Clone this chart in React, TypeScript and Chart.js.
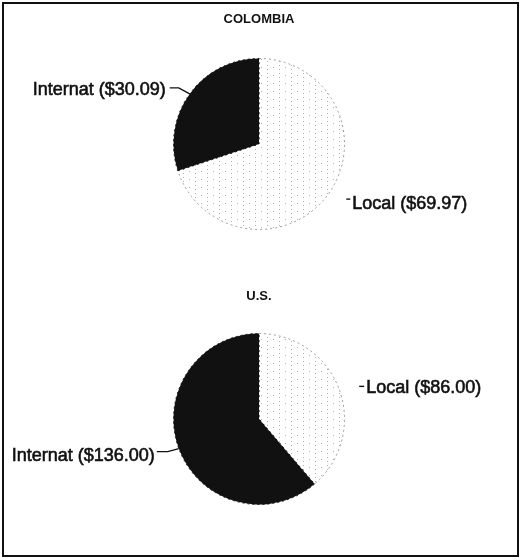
import React, { useEffect, useRef } from "react";
import { Chart, registerables } from "chart.js";
Chart.register(...registerables);

const categories = ["Local", "Internat"];
const colombiaValues = [69.97, 30.09];
const usValues = [86.0, 136.0];
const chartTitles = ["COLOMBIA", "U.S."];

type LabelSpec = {
  side: "left" | "right";
  lineDy: number;
  d1: number;
  d2: number;
  textDx: number;
  textDy: number;
};

function makeDotPattern(): CanvasPattern | string {
  const c = document.createElement("canvas");
  c.width = 12;
  c.height = 8;
  const g = c.getContext("2d");
  if (!g) return "#ffffff";
  g.fillStyle = "#ffffff";
  g.fillRect(0, 0, 12, 8);
  g.fillStyle = "#b0b0b0";
  g.fillRect(3, 1, 1, 1);
  g.fillRect(3, 5, 1, 1);
  g.fillRect(9, 3, 1, 1);
  const p = g.createPattern(c, "repeat");
  return p || "#ffffff";
}

const FONT = "'Liberation Sans', Arial, sans-serif";

const labelPlugin = {
  id: "pieLabels",
  afterDraw(chart: any) {
    const opts = chart.options.plugins.pieLabels;
    const ctx: CanvasRenderingContext2D = chart.ctx;
    const meta = chart.getDatasetMeta(0);
    const values: number[] = chart.data.datasets[0].data;
    const labels: string[] = chart.data.labels;
    ctx.save();
    ctx.fillStyle = "#111";
    ctx.strokeStyle = "#111";
    ctx.font = `bold 13px ${FONT}`;
    ctx.textAlign = "center";
    ctx.textBaseline = "middle";
    const first = meta.data[0];
    ctx.fillText(opts.title, first.x, opts.titleY);

    ctx.font = `18px ${FONT}`;
    meta.data.forEach((arc: any, i: number) => {
      const { x, y, startAngle, endAngle, outerRadius } = arc.getProps(
        ["x", "y", "startAngle", "endAngle", "outerRadius"],
        true
      );
      const mid = (startAngle + endAngle) / 2;
      const ax = x + Math.cos(mid) * outerRadius;
      const ay = y + Math.sin(mid) * outerRadius;
      const spec: LabelSpec = opts.specs[i];
      const text = `${labels[i]} ($${values[i].toFixed(2)})`;
      ctx.lineWidth = 1.4;
      ctx.beginPath();
      let tx: number;
      if (spec.side === "left") {
        ctx.moveTo(ax, ay);
        ctx.lineTo(ax - spec.d1, ay + spec.lineDy);
        ctx.lineTo(ax - spec.d2, ay + spec.lineDy);
        ctx.stroke();
        ctx.textAlign = "right";
        tx = ax - spec.textDx;
      } else {
        ctx.moveTo(ax + spec.d1, ay + spec.lineDy);
        ctx.lineTo(ax + spec.d2, ay + spec.lineDy);
        ctx.stroke();
        ctx.textAlign = "left";
        tx = ax + spec.textDx;
      }
      ctx.fillText(text, tx, ay + spec.textDy);
      ctx.lineWidth = 0.6;
      ctx.strokeText(text, tx, ay + spec.textDy);
    });
    ctx.restore();
  },
};

function PieChart(props: {
  title: string;
  values: number[];
  padding: { left: number; right: number; top: number; bottom: number };
  titleY: number;
  specs: LabelSpec[];
  top: number;
}) {
  const ref = useRef<HTMLCanvasElement | null>(null);
  useEffect(() => {
    if (!ref.current) return;
    const pattern = makeDotPattern();
    const chart = new Chart(ref.current, {
      type: "pie",
      data: {
        labels: categories,
        datasets: [
          {
            data: props.values,
            backgroundColor: [pattern as any, "#111111"],
            borderColor: ["#9a9a9a", "#111111"],
            borderWidth: [1, 1],
            borderDash: [2, 3],
          } as any,
        ],
      },
      options: {
        responsive: false,
        animation: false,
        events: [],
        layout: { padding: props.padding },
        plugins: {
          legend: { display: false },
          tooltip: { enabled: false },
          title: { display: false },
          pieLabels: { title: props.title, titleY: props.titleY, specs: props.specs },
        } as any,
      },
      plugins: [labelPlugin],
    });
    return () => chart.destroy();
  }, []);
  return (
    <canvas
      ref={ref}
      width={520}
      height={280}
      style={{ position: "absolute", left: 0, top: props.top, display: "block" }}
    />
  );
}

export default function App() {
  return (
    <div
      style={{
        position: "absolute",
        left: 0,
        top: 0,
        width: 520,
        height: 560,
        background: "#ffffff",
      }}
    >
      <div
        style={{
          position: "absolute",
          left: 2,
          top: 2,
          width: 517,
          height: 555,
          boxSizing: "border-box",
          border: "2px solid #111",
        }}
      />
      <PieChart
        title={chartTitles[0]}
        values={colombiaValues}
        padding={{ left: 173, right: 175, top: 58, bottom: 50 }}
        titleY={19}
        top={0}
        specs={[
          { side: "right", lineDy: 5, d1: 18, d2: 22, textDx: 24, textDy: 10 },
          { side: "left", lineDy: -6, d1: 11, d2: 20, textDx: 24, textDy: -4 },
        ]}
      />
      <PieChart
        title={chartTitles[1]}
        values={usValues}
        padding={{ left: 173, right: 175, top: 53, bottom: 55 }}
        titleY={16}
        top={280}
        specs={[
          { side: "right", lineDy: -3, d1: 20, d2: 25, textDx: 27, textDy: -1 },
          { side: "left", lineDy: 3, d1: 11, d2: 22, textDx: 24, textDy: 7 },
        ]}
      />
    </div>
  );
}
